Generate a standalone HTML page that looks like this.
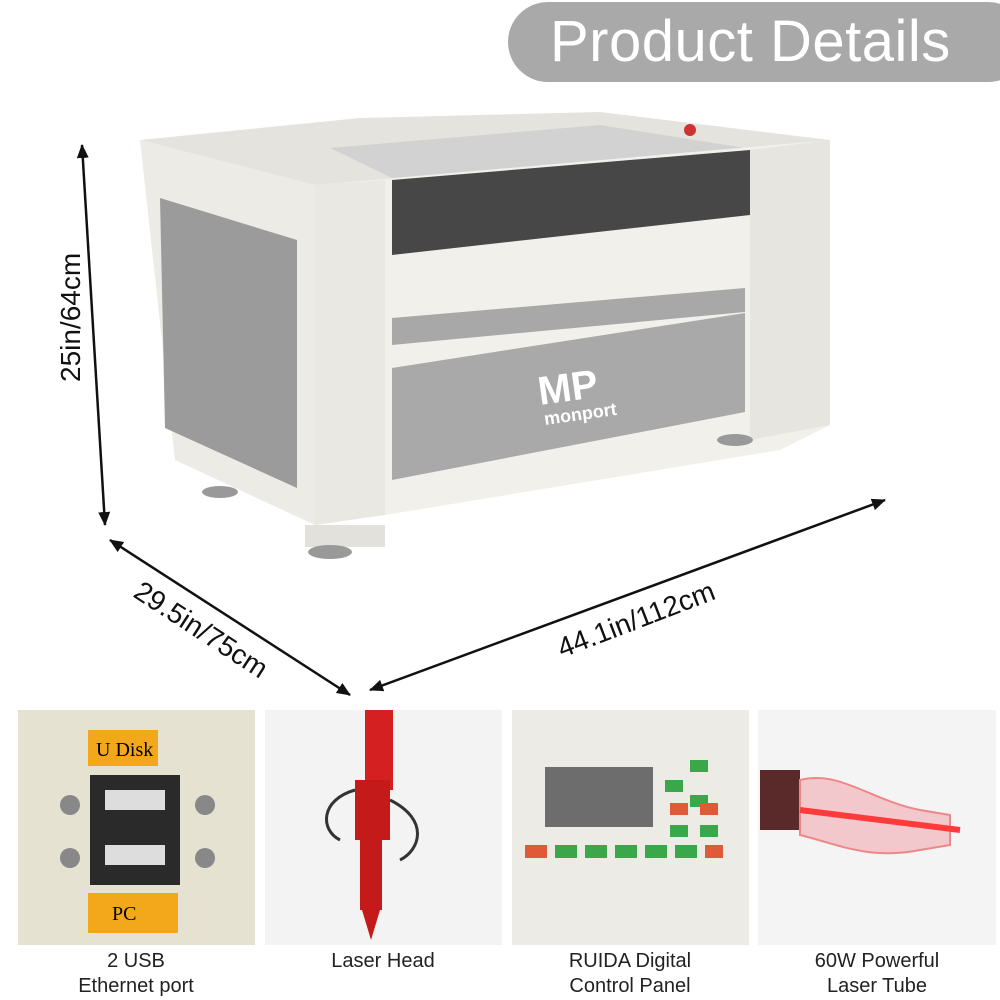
<!DOCTYPE html>
<html><head><meta charset="utf-8"><style>
html,body{margin:0;padding:0;background:#fff;width:1000px;height:1000px;overflow:hidden;font-family:"Liberation Sans",sans-serif}
.pill{position:absolute;left:508px;top:2px;width:520px;height:80px;border-radius:40px;background:#a9a9a9;color:#fff;font-size:58px;line-height:80px;padding-left:42px;box-sizing:border-box;letter-spacing:0.5px}
.cap{position:absolute;top:949px;width:240px;text-align:center;font-size:20px;line-height:25px;color:#222}
</style></head><body>
<div class="pill">Product Details</div>
<svg width="1000" height="1000" style="position:absolute;left:0;top:0">
<defs><marker id="a" markerUnits="userSpaceOnUse" markerWidth="14" markerHeight="12" refX="13" refY="6" orient="auto-start-reverse"><path d="M0,0 L14,6 L0,12 z" fill="#111"/></marker></defs>
<!-- machine -->
<polygon points="140,140 360,118 600,112 830,140 780,148 385,180 315,185" fill="#e4e3de"/>
<polygon points="330,148 600,125 745,148 392,178" fill="#d2d2d2"/>
<polygon points="140,140 315,185 315,525 175,460" fill="#ecebe5"/>
<polygon points="160,198 297,240 297,488 165,428" fill="#9b9b9b"/>
<polygon points="315,185 830,140 830,425 780,450 385,515 315,525" fill="#f1f0ea"/>
<polygon points="315,185 385,180 385,515 315,525" fill="#e9e8e2"/>
<polygon points="750,150 830,140 830,425 750,440" fill="#e6e5df"/>
<polygon points="392,180 750,150 750,215 392,255" fill="#474747"/>
<polygon points="392,318 745,288 745,312 392,345" fill="#a8a8a8"/>
<polygon points="392,368 745,313 745,412 392,480" fill="#a9a9a9"/>
<text x="540" y="405" fill="#fff" font-size="40" font-weight="bold" transform="rotate(-8 540 405)">MP</text>
<text x="545" y="425" fill="#fff" font-size="18" font-weight="bold" transform="rotate(-8 545 425)">monport</text>
<rect x="305" y="525" width="80" height="22" fill="#e2e1db"/>
<ellipse cx="330" cy="552" rx="22" ry="7" fill="#999"/>
<ellipse cx="220" cy="492" rx="18" ry="6" fill="#999"/>
<ellipse cx="735" cy="440" rx="18" ry="6" fill="#999"/>
<circle cx="690" cy="130" r="6" fill="#c33"/>
<!-- arrows -->
<line x1="82" y1="145" x2="105" y2="525" stroke="#111" stroke-width="2.5" marker-end="url(#a)" marker-start="url(#a)"/>
<line x1="110" y1="540" x2="350" y2="695" stroke="#111" stroke-width="2.5" marker-end="url(#a)" marker-start="url(#a)"/>
<line x1="370" y1="690" x2="885" y2="500" stroke="#111" stroke-width="2.5" marker-end="url(#a)" marker-start="url(#a)"/>
<text x="80" y="382" font-size="28" fill="#111" transform="rotate(-90 80 382)">25in/64cm</text>
<text x="132" y="596" font-size="28" fill="#111" transform="rotate(33 132 596)">29.5in/75cm</text>
<text x="562" y="658" font-size="28" fill="#111" transform="rotate(-21 562 658)">44.1in/112cm</text>
<!-- panels -->
<rect x="18" y="710" width="237" height="235" fill="#e6e2d2"/>
<rect x="88" y="730" width="70" height="36" fill="#f2a81a"/><text x="96" y="756" font-size="20" font-family="Liberation Serif">U Disk</text>
<rect x="90" y="775" width="90" height="110" fill="#2a2a2a"/>
<rect x="105" y="790" width="60" height="20" fill="#ddd"/><rect x="105" y="845" width="60" height="20" fill="#ddd"/>
<circle cx="70" cy="805" r="10" fill="#888"/><circle cx="205" cy="805" r="10" fill="#888"/>
<circle cx="70" cy="858" r="10" fill="#888"/><circle cx="205" cy="858" r="10" fill="#888"/>
<rect x="88" y="893" width="90" height="40" fill="#f2a81a"/><text x="112" y="920" font-size="20" font-family="Liberation Serif">PC</text>
<rect x="265" y="710" width="237" height="235" fill="#f3f3f3"/>
<rect x="365" y="710" width="28" height="80" fill="#d42020"/><rect x="355" y="780" width="35" height="60" fill="#c51a1a"/>
<rect x="360" y="840" width="22" height="70" fill="#c51a1a"/><polygon points="362,910 380,910 371,940" fill="#c51a1a"/>
<path d="M355,790 C320,800 320,830 340,840" stroke="#333" stroke-width="3" fill="none"/>
<path d="M390,800 C430,820 420,850 400,860" stroke="#333" stroke-width="3" fill="none"/>
<rect x="512" y="710" width="237" height="235" fill="#ecebe6"/>
<rect x="545" y="767" width="108" height="60" fill="#6d6d6d"/>
<g fill="#3aa84a"><rect x="665" y="780" width="18" height="12"/><rect x="690" y="760" width="18" height="12"/><rect x="690" y="795" width="18" height="12"/><rect x="670" y="825" width="18" height="12"/><rect x="700" y="825" width="18" height="12"/><rect x="555" y="845" width="22" height="13"/><rect x="585" y="845" width="22" height="13"/><rect x="615" y="845" width="22" height="13"/><rect x="645" y="845" width="22" height="13"/><rect x="675" y="845" width="22" height="13"/></g>
<g fill="#e05a3a"><rect x="670" y="803" width="18" height="12"/><rect x="700" y="803" width="18" height="12"/><rect x="525" y="845" width="22" height="13"/><rect x="705" y="845" width="18" height="13"/></g>
<rect x="758" y="710" width="238" height="235" fill="#f4f4f4"/>
<rect x="760" y="770" width="40" height="60" fill="#5a2a2a"/>
<path d="M800,780 C840,770 870,800 920,810 L950,815 L950,845 L920,850 C870,860 840,845 800,835 Z" fill="#f3c8cc" stroke="#e88" stroke-width="2"/>
<line x1="800" y1="810" x2="960" y2="830" stroke="#ff3a3a" stroke-width="6"/>
</svg>
<div class="cap" style="left:16px">2 USB<br>Ethernet port</div>
<div class="cap" style="left:263px">Laser Head</div>
<div class="cap" style="left:510px">RUIDA Digital<br>Control Panel</div>
<div class="cap" style="left:757px">60W Powerful<br>Laser Tube</div>
</body></html>
